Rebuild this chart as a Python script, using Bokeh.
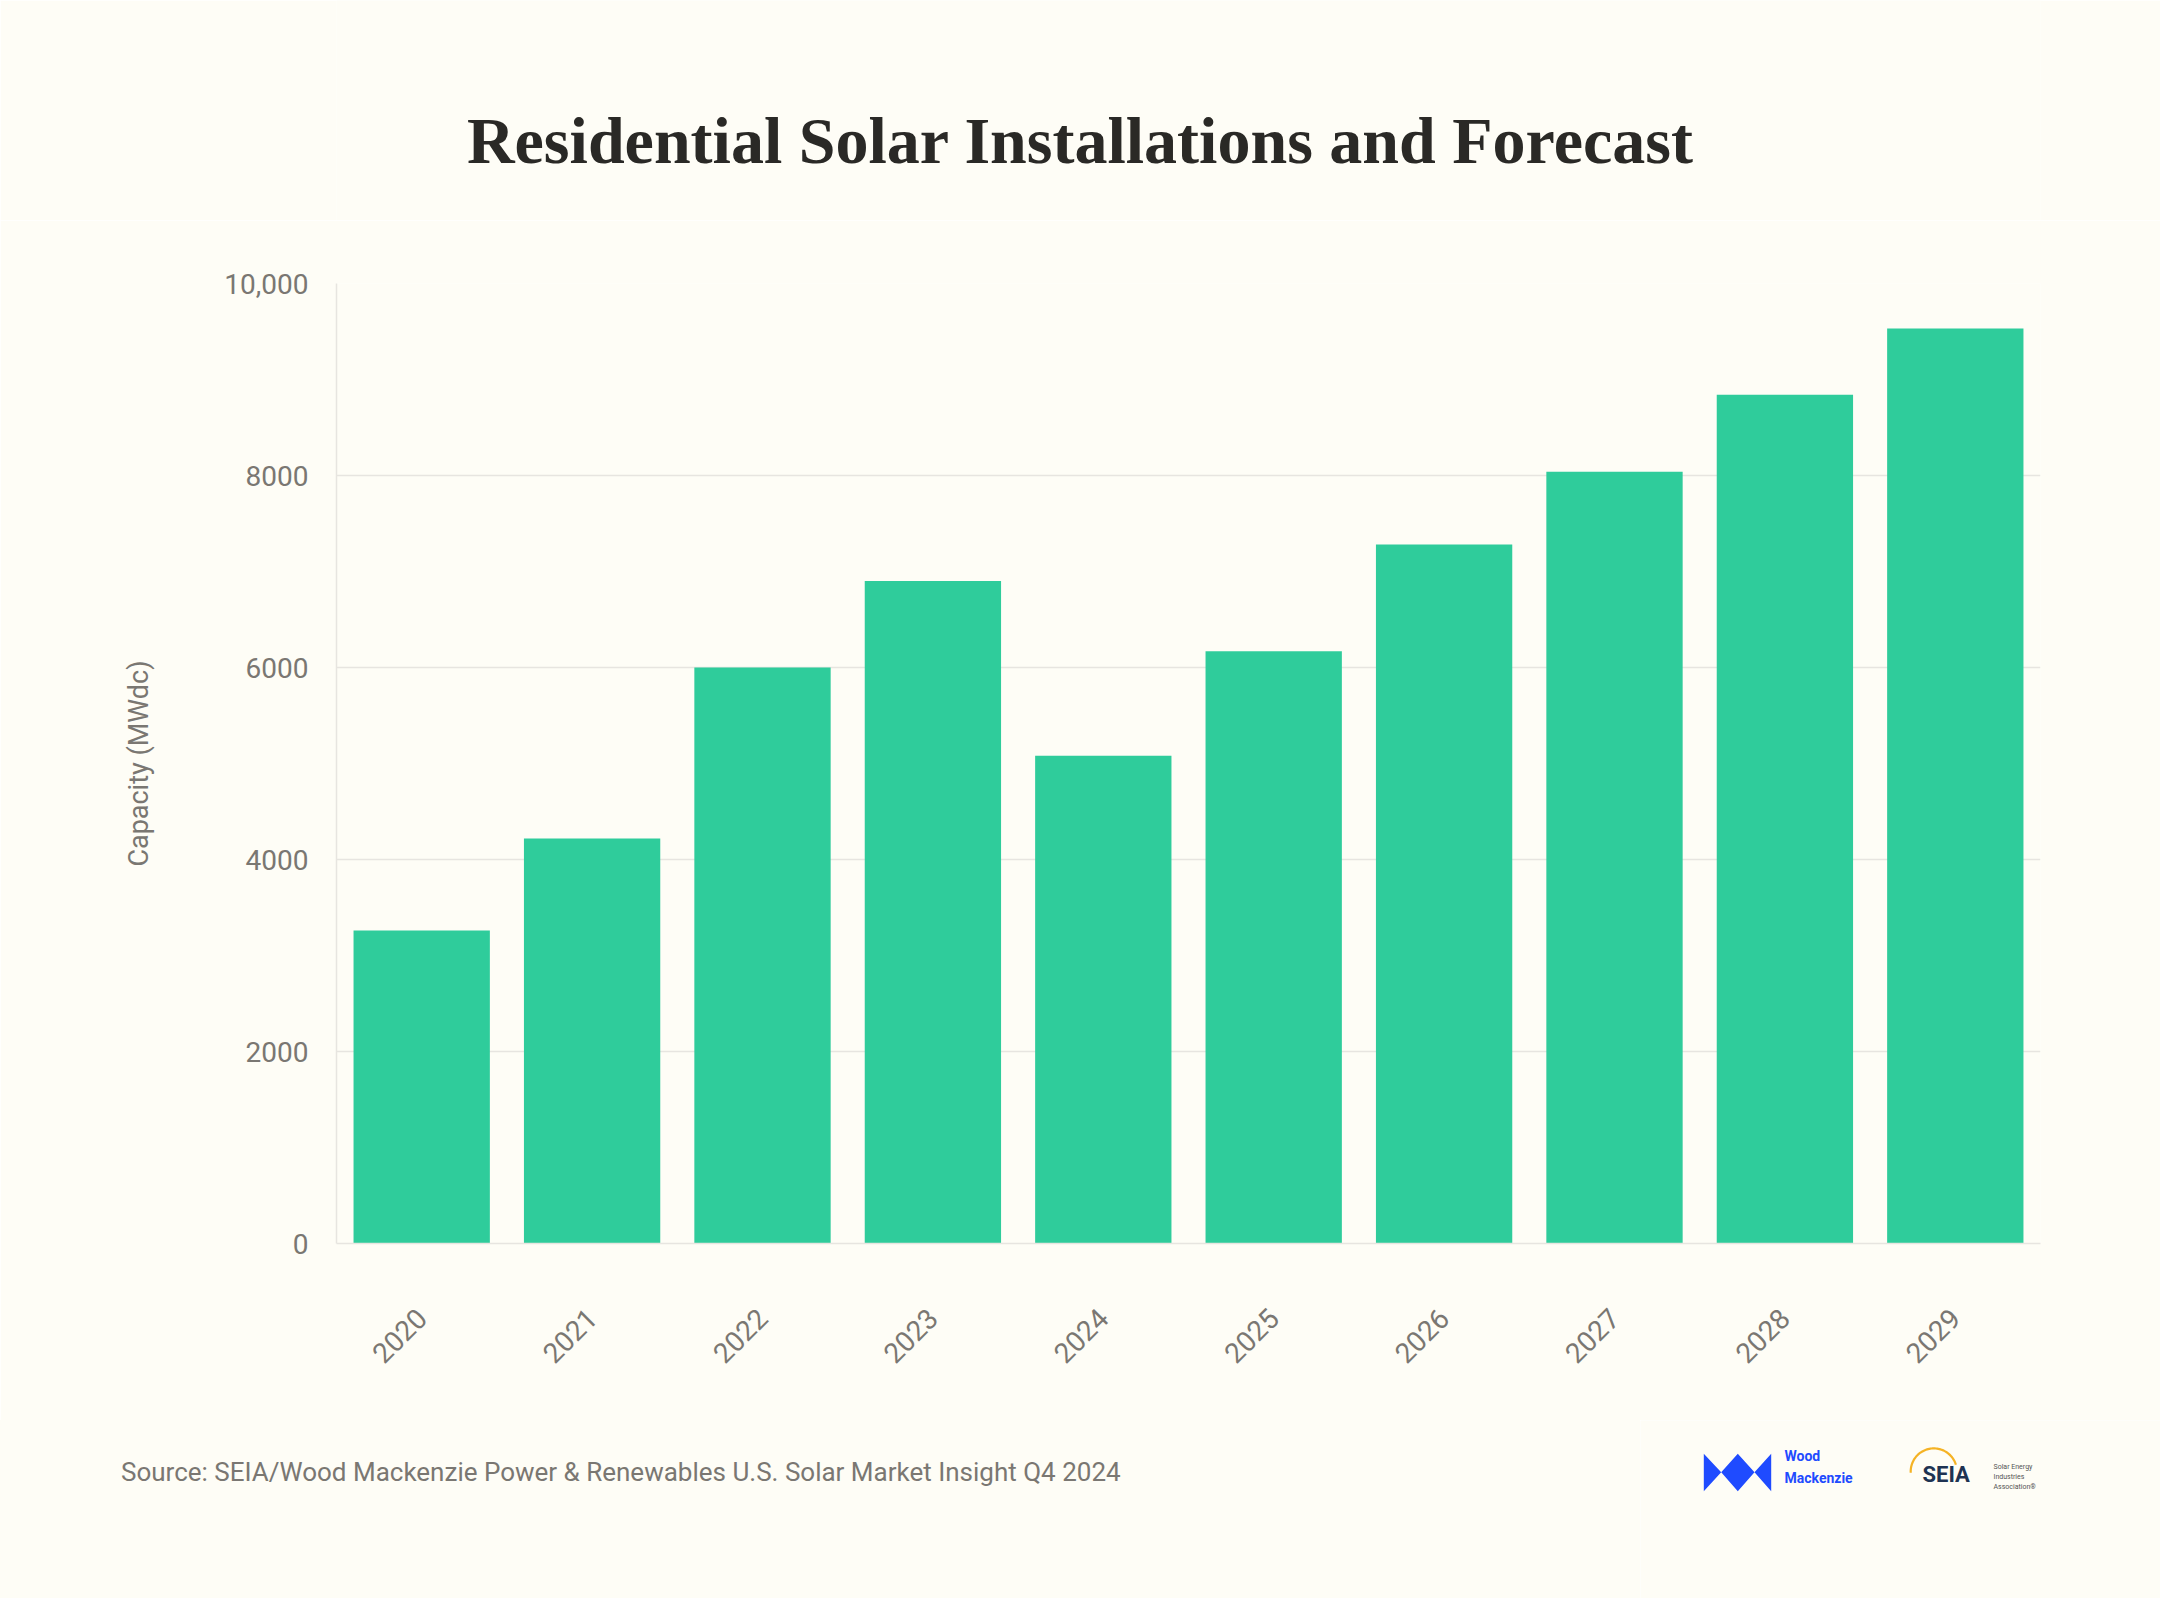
import html
import numpy as np
from bokeh.plotting import figure
from bokeh.layouts import column, row
from bokeh.models import FactorRange, Range1d, FixedTicker, Div
from bokeh.core.properties import value
from bokeh.embed import file_html
from bokeh.resources import INLINE

# ---------------- data ----------------
years = ["2020", "2021", "2022", "2023", "2024", "2025", "2026", "2027", "2028", "2029"]
capacity_mwdc = [3260, 4220, 6000, 6900, 5080, 6170, 7280, 8040, 8840, 9530]
y_ticks = [0, 2000, 4000, 6000, 8000, 10000]
y_tick_labels = ["0", "2000", "4000", "6000", "8000", "10,000"]

title_text = "Residential Solar Installations and Forecast"
source_text = "Source: SEIA/Wood Mackenzie Power & Renewables U.S. Solar Market Insight Q4 2024"
y_title = "Capacity (MWdc)"

# ---------------- style ----------------
BG = "#FEFDF6"
BAR = "#2FCC9B"
GRID = "#E7E5E0"
TXT = "#7A7772"
DARK = "#2A2926"
FONT = "Roboto"
WM = "#1F4BFF"

PAGE_W = 2160
BL, BR = 336, 120          # left / right borders of the chart frame
HEAD_H = 220
MAIN_H = 1200
FOOT_Y0 = HEAD_H + MAIN_H
FOOT_H = 1598 - FOOT_Y0
LOGO_X0 = 1640             # footer split: source text | logos


def deco_figure(x0, x1, y0, y1, bl=0, br=0):
    """A plain figure whose data coordinates equal page pixel coordinates."""
    f = figure(width=x1 - x0, height=y1 - y0, output_backend="svg", toolbar_location=None,
               x_range=Range1d(x0 + bl, x1 - br), y_range=Range1d(y1, y0),
               x_axis_location=None, y_axis_location=None,
               background_fill_color=BG, border_fill_color=BG,
               min_border_left=bl, min_border_right=br,
               min_border_top=0, min_border_bottom=0)
    f.outline_line_color = None
    f.grid.visible = False
    return f


def txt(f, s, X, Y, size, color, font=FONT, style="normal", align="left"):
    # Y is the vertical centre of the capitals
    f.text(x=[X], y=[Y], text=[s], text_font=value(font), text_font_size=value(size),
           text_color=color, text_font_style=style, text_align=align,
           text_baseline="alphabetic")


# ---------------- header ----------------
head = deco_figure(0, PAGE_W, 0, HEAD_H, BL, BR)
txt(head, title_text, 1080, 140, "66px", DARK, font="Liberation Serif", style="bold", align="center")

# ---------------- main chart ----------------
p = figure(width=PAGE_W, height=MAIN_H, output_backend="svg", toolbar_location=None,
           x_range=FactorRange(factors=years, range_padding=0),
           y_range=Range1d(0, 10000),
           background_fill_color=BG, border_fill_color=BG,
           min_border_left=BL, min_border_right=BR,
           min_border_top=63, min_border_bottom=177)
p.outline_line_color = None

p.vbar(x=years, top=capacity_mwdc, width=0.8, fill_color=BAR, line_color=None)

p.xgrid.grid_line_color = None
p.ygrid.grid_line_color = GRID
p.ygrid.grid_line_width = 1.5
p.yaxis.ticker = FixedTicker(ticks=y_ticks)
p.yaxis.major_label_overrides = {t: l for t, l in zip(y_ticks, y_tick_labels)}
for ax in (p.xaxis[0], p.yaxis[0]):
    ax.axis_line_color = GRID
    ax.axis_line_width = 1.5
    ax.major_tick_line_color = None
    ax.minor_tick_line_color = None
    ax.major_label_text_font = FONT
    ax.major_label_text_color = TXT
    ax.major_label_text_font_size = "28px"
p.yaxis.major_label_standoff = 22
p.yaxis.major_label_text_baseline = "alphabetic"
p.xaxis.major_label_orientation = np.pi / 4
p.xaxis.major_label_standoff = 64
p.yaxis.axis_label = y_title
p.yaxis.axis_label_text_font = FONT
p.yaxis.axis_label_text_font_style = "normal"
p.yaxis.axis_label_text_font_size = "27px"
p.yaxis.axis_label_text_color = TXT
p.yaxis.axis_label_standoff = 66

# ---------------- footer ----------------
src_html = ('<div style="margin:0; padding:{top}px 0 0 121px; font-family:Roboto; '
            'font-size:26px; line-height:32px; color:{c}; white-space:nowrap;">{t}</div>'
            ).format(top=1472 - FOOT_Y0 - 16, c=TXT, t=html.escape(source_text))
src = Div(text=src_html, width=LOGO_X0, height=FOOT_H,
          styles={"background-color": BG, "margin": "0", "padding": "0"})

logos = deco_figure(LOGO_X0, PAGE_W, FOOT_Y0, 1598)

# Wood Mackenzie mark
wx = [1703.3, 1720.7, 1737.3, 1754.0, 1770.7, 1770.7, 1754.0, 1737.3, 1720.7, 1703.3]
wy = [1453.3, 1471.7, 1453.3, 1471.7, 1453.3, 1490.7, 1471.7, 1490.7, 1471.7, 1490.7]
logos.patch(x=wx, y=wy, fill_color=WM, line_color=None)
txt(logos, "Wood", 1784, 1455.5, "14px", WM, style="bold")
txt(logos, "Mackenzie", 1784, 1477.5, "14px", WM, style="bold")

# SEIA mark
cx, cy, r0, r1 = 1933.3, 1471.0, 22.0, 24.2
ang = np.linspace(np.deg2rad(17), np.deg2rad(183), 60)
arc_x = list(cx + r1 * np.cos(ang)) + list(cx + r0 * np.cos(ang[::-1]))
arc_y = list(cy - r1 * np.sin(ang)) + list(cy - r0 * np.sin(ang[::-1]))
logos.patch(x=arc_x, y=arc_y, fill_color="#F5B325", line_color=None)
txt(logos, "SEIA", 1922, 1474, "22px", "#1E3352", style="bold")
txt(logos, "Solar Energy", 1993, 1466.5, "7px", "#555555")
txt(logos, "Industries", 1993, 1476.5, "7px", "#555555")
txt(logos, "Association®", 1993, 1486.5, "7px", "#555555")

layout = column(head, p, row(src, logos, spacing=0), spacing=0)
open("out.html", "w").write(file_html(layout, INLINE))
